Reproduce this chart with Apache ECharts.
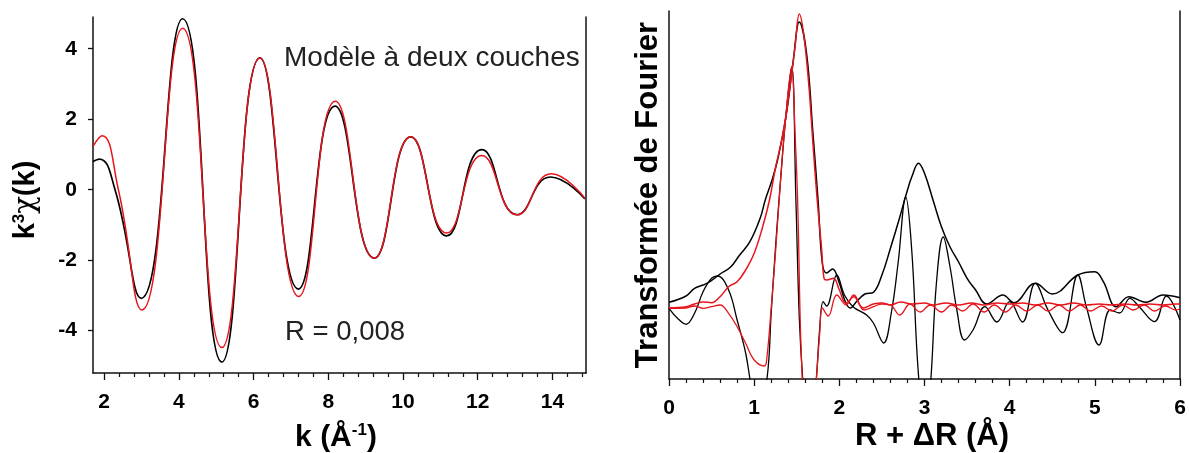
<!DOCTYPE html>
<html>
<head>
<meta charset="utf-8">
<script src="https://cdn.jsdelivr.net/npm/echarts@6/dist/echarts.min.js"></script>
<style>
html,body{margin:0;padding:0;background:#fff;}
#chart{width:1189px;height:453px;}
</style>
</head>
<body>
<div id="chart"></div>
<script>
// --- panneau gauche : k3 chi(k), experience (noir) / modele (rouge), extrema
var kNoir = [1.70, 1.87, 2.29, 2.99, 4.10, 5.15, 6.17, 7.20, 8.18, 9.23, 10.21, 11.17, 12.11, 13.06, 13.95, 14.87];
var chiNoir = [0.80, 0.87, 0.00, -3.08, 4.85, -4.89, 3.74, -2.82, 2.37, -1.94, 1.50, -1.31, 1.14, -0.71, 0.36, -0.26];
var kRouge = [1.70, 1.94, 2.38, 3.01, 4.10, 5.15, 6.17, 7.21, 8.19, 9.23, 10.21, 11.17, 12.11, 13.06, 13.97, 14.87];
var chiRouge = [1.23, 1.53, 0.00, -3.41, 4.58, -4.48, 3.74, -3.03, 2.51, -1.94, 1.50, -1.23, 0.97, -0.71, 0.45, -0.24];
var kTicks = [2, 4, 6, 8, 10, 12, 14];
var chiTicks = [-4, -2, 0, 2, 4];

// --- panneau droit : transformee de Fourier (module + partie imaginaire)
var rModNoir = [0.00, 0.20, 0.30, 0.40, 0.48, 0.60, 0.72, 0.83, 0.95, 1.07, 1.13, 1.21, 1.28, 1.38, 1.46, 1.53, 1.615, 1.69, 1.75, 1.80, 1.85, 1.92, 2.00, 2.07, 2.13, 2.20, 2.30, 2.40, 2.50, 2.60, 2.70, 2.80, 2.85, 2.93, 3.00, 3.10, 3.20, 3.30, 3.40, 3.50, 3.60, 3.73, 3.92, 4.05, 4.30, 4.50, 4.80, 5.00, 5.10, 5.25, 5.40, 5.60, 5.80, 6.00];
var modNoir = [5.7, 12, 19.7, 23, 26.3, 34, 40.7, 53, 66.3, 89.7, 108, 128, 150, 195, 248, 286, 255, 175, 108, 45, 35, 39, 25, 6.3, 0, 6.3, 14, 15.7, 33, 59.7, 88, 118, 131, 144.7, 134.7, 108, 81, 61, 46, 29.7, 18, 4, 13, 5.3, 24.7, 14, 33, 36.3, 26.3, 1.3, 11.3, 5.7, 13, 10.3];
var rImNoir = [0.00, 0.10, 0.20, 0.30, 0.40, 0.50, 0.57, 0.70, 0.80, 0.90, 0.97, 1.05, 1.15, 1.20, 1.25, 1.31, 1.37, 1.44, 1.49, 1.53, 1.57, 1.65, 1.73, 1.77, 1.81, 1.85, 1.97, 2.06, 2.16, 2.32, 2.40, 2.52, 2.61, 2.69, 2.78, 2.85, 2.91, 2.95, 3.00, 3.075, 3.14, 3.22, 3.30, 3.38, 3.47, 3.57, 3.71, 3.85, 4.00, 4.15, 4.30, 4.45, 4.62, 4.80, 4.90, 5.05, 5.18, 5.29, 5.41, 5.52, 5.70, 5.84, 6.00];
var imNoir = [-0.3, -10.3, -16.3, -5.3, 16.3, 29.7, 32, 18, -12, -45, -80, -105, -71, -5, 60, 128, 190, 241, 108, -10, -71, -150, -71, -20, 6.3, 2, 33, 13, 1.3, -7, -15, -35, -5, 45, 111, 58, -42, -90, -140, -71, 25, 71, 41, -2, -32, -22, 1.3, -14, 6.3, -14, 24.7, -2, -24.7, 33, 1.3, -37, -2, -5, 9.7, 1.3, -13.7, 12, -12];
var rModRouge = [0.00, 0.20, 0.30, 0.40, 0.50, 0.60, 0.70, 0.80, 0.90, 1.00, 1.10, 1.18, 1.25, 1.34, 1.42, 1.48, 1.53, 1.58, 1.64, 1.69, 1.74, 1.79, 1.82, 1.85, 1.93, 2.00, 2.08, 2.17, 2.28, 2.40, 2.50, 2.60, 2.72, 2.85, 3.00, 3.10, 3.25, 3.40, 3.55, 3.70, 3.85, 4.00, 4.15, 4.30, 4.45, 4.60, 4.75, 4.90, 5.05, 5.20, 5.35, 5.50, 5.65, 5.80, 5.95, 6.00];
var modRouge = [0.3, 1.3, 4, 6, 5.3, 11.3, 21.3, 26.3, 38, 54.7, 81.3, 108, 140, 175, 221, 261, 294, 274.7, 224.7, 164.7, 108, 61, 29.7, 28, 29.7, 18, 4.7, 11.3, 0, 4, 5, 3, 6, 4, 5, 3, 5, 3, 5, 3, 5, 4, 5, 3, 5, 3, 5, 3, 4, 3, 4, 3, 4, 3, 4, 4];
var rImRouge = [0.00, 0.20, 0.30, 0.40, 0.50, 0.60, 0.70, 0.80, 0.90, 1.00, 1.12, 1.15, 1.20, 1.25, 1.31, 1.37, 1.44, 1.48, 1.51, 1.565, 1.65, 1.73, 1.77, 1.80, 1.87, 1.97, 2.08, 2.17, 2.29, 2.40, 2.50, 2.60, 2.71, 2.83, 2.95, 3.07, 3.20, 3.32, 3.45, 3.57, 3.70, 3.82, 3.95, 4.07, 4.20, 4.33, 4.45, 4.58, 4.70, 4.83, 4.95, 5.08, 5.20, 5.33, 5.45, 5.58, 5.70, 5.83, 5.95, 6.00];
var imRouge = [-0.3, 0, 2, -0.3, 1.3, 3, -5.3, -18.7, -35.3, -52, -58, -49, 0, 55, 128, 190, 241, 175, 108, -71, -150, -71, -25, 0, -8, 13, 3, 13, -2, 1.3, 4, 3, -7, 4, -4, 3, -4, 3, -3, 4, -4, 3, -4, 3, -3, 3, -3, 3, -3, 3, -3, 2, -3, 3, -2, 3, -3, 2, -2, -1];

function paires(xs, ys) {
    var out = [];
    for (var i = 0; i < xs.length; i++) {
        out.push([xs[i], ys[i]]);
    }
    return out;
}

// petites graduations de l'axe k (pas de 0.4)
var kMinor = [];
for (var t = 2; t <= 14.85; t += 0.4) {
    var v = Math.round(t * 10) / 10;
    if (kTicks.indexOf(v) < 0) kMinor.push(v);
}

var NOIR = '#000000';
var ROUGE = '#e8141c';
var police = 'Liberation Sans, Arial, sans-serif';
var axeTrait = {onZero: false, lineStyle: {color: '#111', width: 1.5}};

var myChart = echarts.init(document.getElementById('chart'));
var option = {
    backgroundColor: '#fff',
    animation: false,
    grid: [
        {left: 93, top: 17, width: 493, height: 356},
        {left: 669, top: 11, width: 511, height: 368}
    ],
    xAxis: [
        {
            gridIndex: 0, type: 'value', min: 1.7, max: 14.9, position: 'bottom',
            axisLine: axeTrait,
            axisTick: {customValues: kTicks, length: 7, lineStyle: {color: '#111', width: 1.3}},
            axisLabel: {customValues: kTicks, margin: 19, fontSize: 21, fontWeight: 'bold', color: '#000', fontFamily: police},
            splitLine: {show: false}
        },
        {
            gridIndex: 0, type: 'value', min: 1.7, max: 14.9, position: 'bottom',
            axisLine: {show: false, onZero: false},
            axisTick: {customValues: kMinor, length: 4, lineStyle: {color: '#111', width: 1.2}},
            axisLabel: {show: false},
            splitLine: {show: false}
        },
        {
            gridIndex: 1, type: 'value', min: 0, max: 6, interval: 1,
            axisLine: axeTrait,
            axisTick: {length: 7, lineStyle: {color: '#111', width: 1.3}},
            minorTick: {show: true, splitNumber: 5, length: 4, lineStyle: {color: '#111', width: 1.2}},
            axisLabel: {margin: 19, fontSize: 21, fontWeight: 'bold', color: '#000', fontFamily: police},
            splitLine: {show: false}
        }
    ],
    yAxis: [
        {
            gridIndex: 0, type: 'value', min: -5.2, max: 4.9,
            axisLine: {show: true, onZero: false, lineStyle: {color: '#111', width: 1.5}},
            axisTick: {show: true, customValues: chiTicks, length: 5, lineStyle: {color: '#111', width: 1.3}},
            axisLabel: {customValues: chiTicks, margin: 16, fontSize: 21, fontWeight: 'bold', color: '#000', fontFamily: police},
            splitLine: {show: false}
        },
        {
            gridIndex: 0, type: 'value', position: 'right', min: -5.2, max: 4.9,
            axisLine: {show: true, onZero: false, lineStyle: {color: '#111', width: 1.5}},
            axisTick: {show: false}, axisLabel: {show: false}, splitLine: {show: false}
        },
        {
            gridIndex: 1, type: 'value', min: -71, max: 297,
            axisLine: {show: true, onZero: false, lineStyle: {color: '#111', width: 1.5}},
            axisTick: {show: false}, axisLabel: {show: false}, splitLine: {show: false}
        },
        {
            gridIndex: 1, type: 'value', position: 'right', min: -71, max: 297,
            axisLine: {show: true, onZero: false, lineStyle: {color: '#111', width: 1.5}},
            axisTick: {show: false}, axisLabel: {show: false}, splitLine: {show: false}
        }
    ],
    series: [
        {name: 'exp', type: 'line', xAxisIndex: 0, yAxisIndex: 0, data: paires(kNoir, chiNoir),
            smooth: 0.5, showSymbol: false, lineStyle: {color: NOIR, width: 1.7}, z: 3},
        {name: 'fit', type: 'line', xAxisIndex: 0, yAxisIndex: 0, data: paires(kRouge, chiRouge),
            smooth: 0.5, showSymbol: false, lineStyle: {color: ROUGE, width: 1.5}, z: 4},
        {name: 'mod exp', type: 'line', xAxisIndex: 2, yAxisIndex: 2, data: paires(rModNoir, modNoir),
            smooth: 0.4, showSymbol: false, lineStyle: {color: NOIR, width: 1.5}, z: 3},
        {name: 'im exp', type: 'line', xAxisIndex: 2, yAxisIndex: 2, data: paires(rImNoir, imNoir),
            smooth: 0.4, showSymbol: false, lineStyle: {color: NOIR, width: 1.3}, z: 3},
        {name: 'mod fit', type: 'line', xAxisIndex: 2, yAxisIndex: 2, data: paires(rModRouge, modRouge),
            smooth: 0.4, showSymbol: false, lineStyle: {color: ROUGE, width: 1.5}, z: 4},
        {name: 'im fit', type: 'line', xAxisIndex: 2, yAxisIndex: 2, data: paires(rImRouge, imRouge),
            smooth: 0.4, showSymbol: false, lineStyle: {color: ROUGE, width: 1.3}, z: 4}
    ],
    graphic: [
        {type: 'text', left: 284, top: 44, style: {text: 'Modèle à deux couches', fontSize: 28, fontFamily: police, fill: '#222'}},
        {type: 'text', left: 285, top: 318, style: {text: 'R = 0,008', fontSize: 27.5, fontFamily: police, fill: '#222'}},
        {type: 'text', x: 336, y: 438, style: {
            text: '{a|k (Å}{s|-1}{a|)}', align: 'center', verticalAlign: 'middle',
            rich: {
                a: {fontSize: 30, fontWeight: 'bold', fontFamily: police, fill: '#000', lineHeight: 32},
                s: {fontSize: 17, fontWeight: 'bold', fontFamily: police, fill: '#000', verticalAlign: 'top', lineHeight: 32}
            }}},
        {type: 'text', x: 932, y: 436, style: {
            text: 'R + ΔR (Å)', align: 'center', verticalAlign: 'middle',
            fontSize: 31, fontWeight: 'bold', fontFamily: police, fill: '#000'}},
        {type: 'text', x: 26, y: 200, rotation: Math.PI / 2, style: {
            text: '{a|k}{s|3}{c|χ}{a|(k)}', align: 'center', verticalAlign: 'middle',
            rich: {
                a: {fontSize: 29, fontWeight: 'bold', fontFamily: police, fill: '#000', lineHeight: 30},
                s: {fontSize: 17, fontWeight: 'bold', fontFamily: police, fill: '#000', verticalAlign: 'top', lineHeight: 30},
                c: {fontSize: 29, fontFamily: 'DejaVu Serif, serif', fill: '#000', lineHeight: 30}
            }}},
        {type: 'text', x: 648, y: 195, rotation: Math.PI / 2, style: {
            text: 'Transformée de Fourier', align: 'center', verticalAlign: 'middle',
            fontSize: 31, fontWeight: 'bold', fontFamily: police, fill: '#000'}}
    ]
};
myChart.setOption(option);
</script>
</body>
</html>
